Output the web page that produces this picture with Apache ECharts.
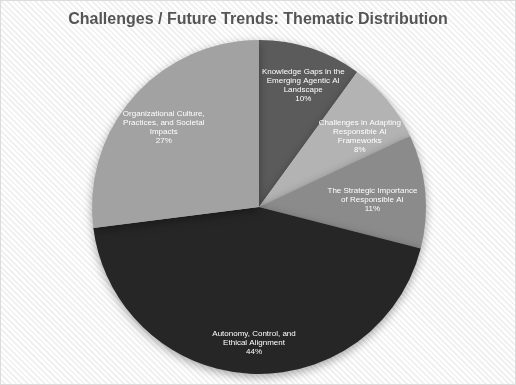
<!DOCTYPE html>
<html>
<head>
<meta charset="utf-8">
<script src="https://cdn.jsdelivr.net/npm/echarts@6/dist/echarts.min.js"></script>
<style>
  html, body { margin: 0; padding: 0; }
  #chart {
    width: 516px; height: 385px; box-sizing: border-box;
    border: 1px solid #dcdcdc;
    background-color: #ffffff;
    background-image: repeating-linear-gradient(45deg, #ffffff 0px, #ffffff 2px, #f1f1f1 2px, #f1f1f1 4px);
  }
</style>
</head>
<body>
<div id="chart"></div>
<script>
const titleText = 'Challenges / Future Trends: Thematic Distribution';
const categories = [
  'Knowledge Gaps in the\nEmerging Agentic AI\nLandscape',
  'Challenges in Adapting\nResponsible AI\nFrameworks',
  'The Strategic Importance\nof Responsible AI',
  'Autonomy, Control, and\nEthical Alignment',
  'Organizational Culture,\nPractices, and Societal\nImpacts'
];
const values = [10, 8, 11, 44, 27];
const colors = ['#5b5b5b', '#b3b3b3', '#8b8b8b', '#262626', '#a2a2a2'];
// small label nudges (pixels) to mimic the reference placement
const labelNudge = [[5, -1], [3, 10], [-13, 5], [3, 9], [0, 4]];

const chart = echarts.init(document.getElementById('chart'), null, { renderer: 'canvas' });
const center = [258, 206];
chart.setOption({
  backgroundColor: 'transparent',
  animation: false,
  title: {
    text: titleText, left: 'center', top: 6,
    textStyle: { fontFamily: 'Liberation Sans, Arial', fontSize: 16, fontWeight: 'bold', color: '#555555' }
  },
  series: [
    {
      type: 'pie', center: center, radius: [0, 167], startAngle: 90, clockwise: true,
      silent: true,
      label: { show: false }, labelLine: { show: false },
      itemStyle: { borderWidth: 0, shadowBlur: 10, shadowOffsetY: 3, shadowColor: 'rgba(0,0,0,0.35)' },
      data: categories.map((c, i) => ({ name: c, value: values[i], itemStyle: { color: colors[i] } }))
    },
    {
      type: 'pie', center: center, radius: [81, 167], startAngle: 90, clockwise: true,
      silent: true,
      itemStyle: { color: 'rgba(0,0,0,0)', borderWidth: 0 },
      label: {
        show: true, position: 'inside', rotate: 0, color: '#ffffff',
        fontFamily: 'Liberation Sans, Arial', fontSize: 8, lineHeight: 9, align: 'center',
        formatter: p => p.name + '\n' + p.value + '%'
      },
      labelLayout: p => ({ dx: labelNudge[p.dataIndex][0], dy: labelNudge[p.dataIndex][1] }),
      labelLine: { show: false },
      data: categories.map((c, i) => ({ name: c, value: values[i] }))
    }
  ]
});
</script>
</body>
</html>
